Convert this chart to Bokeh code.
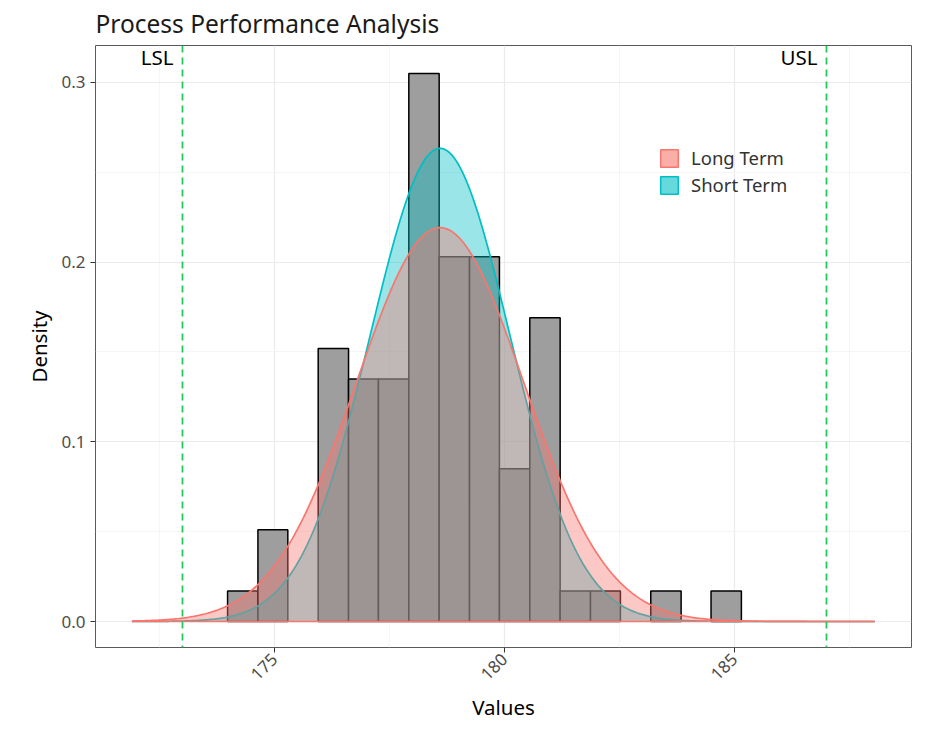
import numpy as np
from bokeh.plotting import figure
from bokeh.models import (ColumnDataSource, FixedTicker, Legend, LegendItem, Label, Span,
                          Range1d, NumeralTickFormatter)
from bokeh.embed import file_html
from bokeh.resources import INLINE
import math

# ---------------- data ----------------
bin_edges = [173.98, 174.64, 175.29, 175.95, 176.61, 177.26, 177.92, 178.58, 179.24,
             179.89, 180.55, 181.21, 181.87, 182.52, 183.18, 183.84, 184.49, 185.15]
bin_density = [0.017, 0.051, 0.0, 0.152, 0.135, 0.135, 0.305, 0.203, 0.203,
               0.085, 0.169, 0.017, 0.017, 0.0, 0.017, 0.0, 0.017]

process_mean = 178.6
sd_long = 1.82
sd_short = 1.515
curve_from, curve_to = 171.9, 188.05

lsl, usl = 173.0, 187.0
spec_labels = ["LSL", "USL"]

x_ticks = [175, 180, 185]
x_minor = [172.5, 177.5, 182.5, 187.5]
y_ticks = [0.0, 0.1, 0.2, 0.3]
y_minor = [0.05, 0.15, 0.25]
series_names = ["Long Term", "Short Term"]
series_colors = ["#F8766D", "#00BFC4"]
title_text = "Process Performance Analysis"

FONT = "Noto Sans"
X0, X1 = 171.109, 188.848
Y0, Y1 = -0.01447, 0.32059

# ---------------- figure ----------------
p = figure(width=926, height=727, output_backend="svg", toolbar_location=None,
           x_range=Range1d(X0, X1), y_range=Range1d(Y0, Y1),
           min_border_left=95, min_border_right=15, min_border_top=45, min_border_bottom=80)

p.background_fill_color = "white"
p.border_fill_color = "white"
p.outline_line_color = "#5A5A5A"
p.outline_line_width = 1

p.title.text = title_text
p.title.text_font = FONT
p.title.text_font_size = "24.5px"
p.title.text_font_style = "normal"
p.title.text_color = "#1A1A1A"
p.title.align = "left"
p.title.vertical_align = "top"
p.title.standoff = 8

# axes
p.xaxis.ticker = FixedTicker(ticks=x_ticks, minor_ticks=x_minor)
p.yaxis.ticker = FixedTicker(ticks=y_ticks, minor_ticks=y_minor)
p.yaxis.formatter = NumeralTickFormatter(format="0.0")
p.xaxis.major_label_orientation = math.pi / 4
for ax in (p.xaxis, p.yaxis):
    ax.axis_line_color = None
    ax.major_tick_line_color = "#333333"
    ax.major_tick_out = 5
    ax.major_tick_in = 0
    ax.minor_tick_line_color = None
    ax.major_label_text_font = FONT
    ax.major_label_text_font_size = "17px"
    ax.major_label_text_color = "#4D4D4D"
    ax.axis_label_text_font = FONT
    ax.axis_label_text_font_size = "20.5px"
    ax.axis_label_text_font_style = "normal"
    ax.axis_label_text_color = "black"
p.xaxis.axis_label = "Values"
p.yaxis.axis_label = "Density"
p.xaxis.major_label_standoff = 4
p.yaxis.major_label_standoff = 5
p.xaxis.axis_label_standoff = 4
p.yaxis.axis_label_standoff = 5

for g in (p.xgrid, p.ygrid):
    g.grid_line_color = "#EBEBEB"
    g.grid_line_width = 1.2
    g.minor_grid_line_color = "#F2F2F2"
    g.minor_grid_line_width = 0.8

# histogram bars
lefts, rights, tops = [], [], []
for i, d in enumerate(bin_density):
    if d > 0:
        lefts.append(bin_edges[i]); rights.append(bin_edges[i + 1]); tops.append(d)
bars = ColumnDataSource(dict(left=lefts, right=rights, top=tops, bottom=[0.0] * len(tops)))
p.quad(left="left", right="right", top="top", bottom="bottom", source=bars,
       fill_color="#9E9E9E", line_color="black", line_width=1.5)

# normal fit curves (short term under, long term on top)
xs = np.linspace(curve_from, curve_to, 400)
def normal_pdf(x, m, s):
    return np.exp(-0.5 * ((x - m) / s) ** 2) / (s * np.sqrt(2 * np.pi))

for sd, col in ((sd_short, series_colors[1]), (sd_long, series_colors[0])):
    ys = normal_pdf(xs, process_mean, sd)
    p.varea(x=xs, y1=np.zeros_like(ys), y2=ys, fill_color=col, fill_alpha=0.4)
    p.line(xs, ys, line_color=col, line_width=1.7)
p.line([curve_from, curve_to], [0.0, 0.0], line_color=series_colors[0], line_width=1.7)

# spec limits
for xv in (lsl, usl):
    p.add_layout(Span(location=xv, dimension="height", line_color="#22C95A",
                      line_width=1.8, line_dash="7 5"))
for xv, txt in zip((lsl, usl), spec_labels):
    p.add_layout(Label(x=xv, y=Y1, x_offset=-9, y_offset=3, text=txt,
                       text_align="right", text_baseline="top", text_font=FONT,
                       text_font_size="20.5px", text_color="black"))

# legend with dedicated key glyphs (drawn outside the visible x range)
items = []
for name, col in zip(series_names, series_colors):
    r = p.quad(left=[160.0], right=[160.5], top=[0.1], bottom=[0.0], fill_color=col,
               fill_alpha=0.6, line_color=col, line_width=1.5)
    items.append(LegendItem(label=name, renderers=[r]))
legend = Legend(items=items, location=(563, 450))
legend.background_fill_alpha = 0
legend.border_line_color = None
legend.padding = 0
legend.margin = 0
legend.spacing = 2
legend.glyph_width = 22
legend.glyph_height = 22
legend.label_standoff = 11
legend.label_text_font = FONT
legend.label_text_font_size = "18.5px"
legend.label_text_color = "#333333"
p.add_layout(legend)

open("out.html", "w").write(file_html(p, INLINE))
